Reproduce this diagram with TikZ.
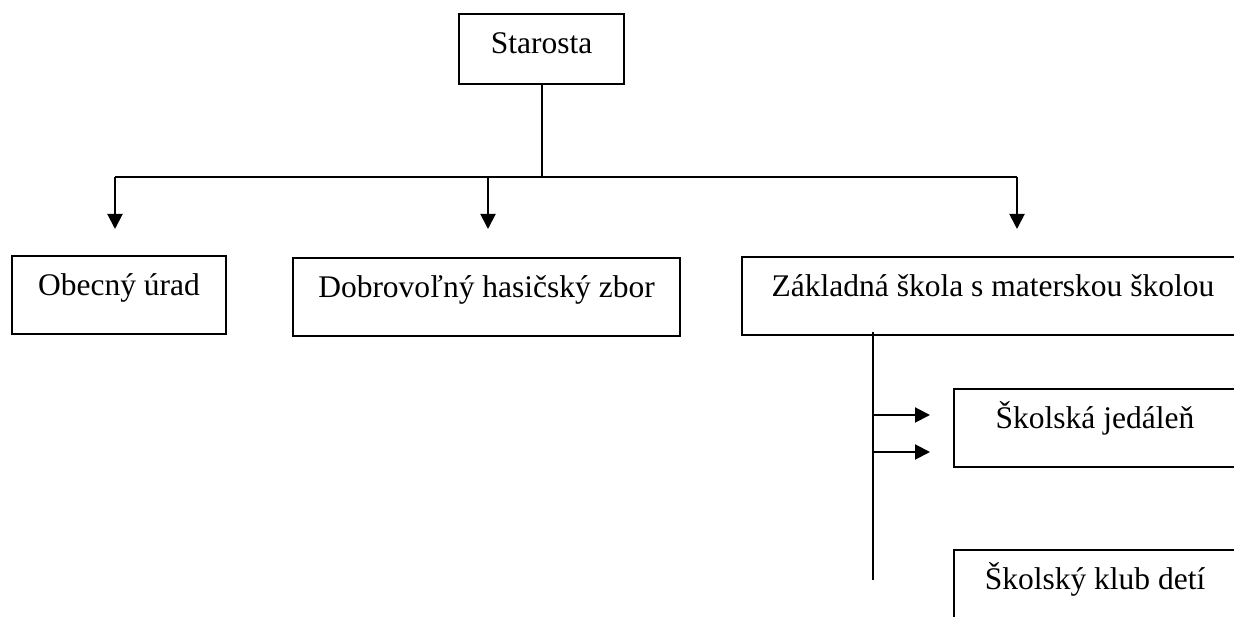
\documentclass[tikz,border=0pt]{standalone}
\usepackage{fontspec}
\setmainfont{Liberation Serif}
\usetikzlibrary{arrows.meta}
\tikzstyle{box}=[draw,line width=2pt,anchor=north west,inner xsep=0pt,inner ysep=18pt,text height=22pt,text depth=20pt,font=\fontsize{31.5}{38}\selectfont]
\tikzstyle{arr}=[line width=2pt,-{Triangle[length=15pt,width=15pt]}]

\begin{document}
\begin{tikzpicture}[x=1pt,y=1pt]
    \useasboundingbox (0,0) rectangle (1234,617);
    \clip (0,0) rectangle (1234,617);
    \node[box,minimum width=165pt,text depth=12pt] (starosta) at (458,604) {Starosta};
    \node[box,minimum width=214pt] (urad) at (11,362) {Obecný úrad};
    \node[box,minimum width=387pt] (hasici) at (292,360) {Dobrovoľný hasičský zbor};
    \node[box,minimum width=502pt] (skola) at (741,361) {Základná škola s materskou školou};
    \node[box,minimum width=282pt] (jedalen) at (953,229) {Školská jedáleň};
    \node[box,minimum width=282pt] (klub) at (953,68) {Školský klub detí};
    % rozvod od starostu
    \coordinate (busL) at (115,440);
    \coordinate (busM) at (488,440);
    \coordinate (busR) at (1017,440);
    \draw[line width=2pt] (starosta.south) -- (starosta.south |- busL);
    \draw[line width=2pt] (busL) -- (busR);
    \draw[arr] (busL) -- ++(0,-52);
    \draw[arr] (busM) -- ++(0,-52);
    \draw[arr] (busR) -- ++(0,-52);
    % skola
    \coordinate (sk) at (873,285);
    \coordinate (skEnd) at (873,37);
    \draw[line width=2pt] (sk) -- (skEnd);
    \draw[arr] (sk |- 0,202) -- (930,202);
    \draw[arr] (sk |- 0,165) -- (930,165);
\end{tikzpicture}
\end{document}
